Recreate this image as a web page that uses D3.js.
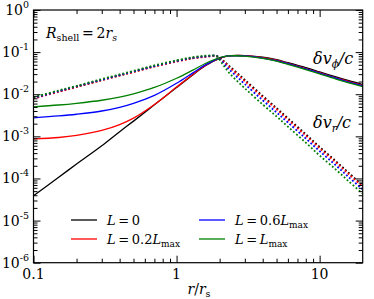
<!DOCTYPE html>
<html>
<head>
<meta charset="utf-8">
<script src="https://cdn.jsdelivr.net/npm/d3@7"></script>
<style>
  body { margin: 0; background: #fff; }
  text { font-family: "DejaVu Serif", serif; fill: #000; }
</style>
</head>
<body>
<svg id="chart" width="374" height="299"></svg>
<script>
// radius grid (r / r_s) for the azimuthal velocity curves
const rPhi = [0.1, 0.15, 0.2, 0.3, 0.4, 0.5, 0.7, 1.0, 1.3, 1.6, 2.0, 2.3, 2.6, 3.0, 4.0, 5.0, 6.0, 8.0, 10, 13, 16, 20];
const vPhiL0   = [3.9e-5, 1.07e-4, 2.2e-4, 6.0e-4, 1.29e-3, 2.3e-3, 5.6e-3, 0.0145, 0.0288, 0.048, 0.071, 0.081, 0.084, 0.083, 0.076, 0.066, 0.056, 0.0427, 0.0339, 0.0257, 0.0209, 0.017];
const vPhiL02  = [8.7e-4, 9.4e-4, 1.05e-3, 1.38e-3, 1.9e-3, 2.7e-3, 5.7e-3, 0.0148, 0.0295, 0.049, 0.0716, 0.081, 0.083, 0.082, 0.074, 0.0646, 0.0543, 0.0407, 0.0324, 0.0245, 0.020, 0.0162];
const vPhiL06  = [2.75e-3, 3.05e-3, 3.35e-3, 4.0e-3, 4.9e-3, 6.1e-3, 9.4e-3, 0.0182, 0.0322, 0.0505, 0.0724, 0.081, 0.082, 0.081, 0.0724, 0.0624, 0.0531, 0.0398, 0.0316, 0.024, 0.0193, 0.0158];
const vPhiL1   = [5.0e-3, 5.55e-3, 6.1e-3, 7.2e-3, 8.5e-3, 0.0102, 0.0145, 0.024, 0.0375, 0.0545, 0.0741, 0.081, 0.082, 0.080, 0.0708, 0.061, 0.0513, 0.0385, 0.0305, 0.0229, 0.0186, 0.0151];

// radius grid for the radial velocity curves
const rR = [0.1, 0.15, 0.2, 0.3, 0.4, 0.5, 0.7, 1.0, 1.3, 1.6, 1.9, 2.1, 2.3, 2.6, 3.0, 4.0, 5.0, 6.0, 8.0, 10, 13, 16, 20];
const vRL0  = [8.1e-3, 0.0117, 0.0151, 0.0219, 0.0282, 0.0343, 0.0462, 0.061, 0.0724, 0.0785, 0.0813, 0.0646, 0.049, 0.0339, 0.0219, 9.1e-3, 4.7e-3, 2.7e-3, 1.12e-3, 5.6e-4, 2.57e-4, 1.35e-4, 6.9e-5];
const vRL02 = [7.9e-3, 0.0114, 0.0148, 0.0214, 0.0276, 0.0335, 0.0452, 0.0596, 0.0708, 0.0767, 0.0795, 0.062, 0.0463, 0.0318, 0.0205, 8.5e-3, 4.4e-3, 2.5e-3, 1.05e-3, 5.2e-4, 2.4e-4, 1.26e-4, 6.4e-5];
const vRL06 = [8.2e-3, 0.0118, 0.0153, 0.0221, 0.0285, 0.0347, 0.0467, 0.0617, 0.0732, 0.0794, 0.080, 0.0576, 0.0408, 0.0273, 0.0174, 7.2e-3, 3.7e-3, 2.14e-3, 8.9e-4, 4.45e-4, 2.04e-4, 1.07e-4, 5.5e-5];
const vRL1  = [8.5e-3, 0.0123, 0.0158, 0.0229, 0.0295, 0.0359, 0.0484, 0.0639, 0.0758, 0.0822, 0.080, 0.0513, 0.034, 0.0219, 0.0138, 5.7e-3, 2.97e-3, 1.7e-3, 7.1e-4, 3.5e-4, 1.62e-4, 8.5e-5, 4.35e-5];

const seriesColors = ["#000000", "#ff0000", "#0000ff", "#008000"];

const xMajor = [0.1, 1, 10];
const xMinor = [0.2, 0.3, 0.4, 0.5, 0.6, 0.7, 0.8, 0.9, 2, 3, 4, 5, 6, 7, 8, 9];
const yExponents = [0, -1, -2, -3, -4, -5, -6];

const svg = d3.select("#chart");
const mLeft = 33.5, mRight = 362.7, mTop = 10, mBottom = 262.7;

const x = d3.scaleLog().domain([0.1, 20]).range([mLeft, mRight]);
const y = d3.scaleLog().domain([1e-6, 1]).range([mBottom, mTop]);

const yMajor = yExponents.map(e => Math.pow(10, e));
const yMinor = [];
yExponents.slice(1).forEach(e => {
  for (let k = 2; k <= 9; k++) yMinor.push(k * Math.pow(10, e));
});

svg.append("clipPath").attr("id", "clip")
  .append("rect")
  .attr("x", mLeft).attr("y", mTop)
  .attr("width", mRight - mLeft).attr("height", mBottom - mTop);

const plot = svg.append("g").attr("clip-path", "url(#clip)");

const line = d3.line()
  .x(d => x(d[0]))
  .y(d => y(d[1]))
  .curve(d3.curveCatmullRom.alpha(0.5));

const phiSets = [vPhiL0, vPhiL02, vPhiL06, vPhiL1];
const radSets = [vRL0, vRL02, vRL06, vRL1];

// solid lines: delta v_phi / c
phiSets.forEach((vals, i) => {
  plot.append("path")
    .datum(rPhi.map((r, j) => [r, vals[j]]))
    .attr("fill", "none")
    .attr("stroke", seriesColors[i])
    .attr("stroke-width", 1.3)
    .attr("d", line);
});

// dotted lines: delta v_r / c
radSets.forEach((vals, i) => {
  plot.append("path")
    .datum(rR.map((r, j) => [r, vals[j]]))
    .attr("fill", "none")
    .attr("stroke", seriesColors[i])
    .attr("stroke-width", 1.8)
    .attr("stroke-dasharray", "1.8,2.2")
    .attr("d", line);
});

// ticks on all four sides, pointing inward
function addTicks(axisFn, scale, values, size, transform) {
  svg.append("g")
    .attr("transform", transform)
    .call(axisFn(scale).tickValues(values).tickSize(size).tickFormat(""))
    .call(g => g.select(".domain").remove())
    .call(g => g.selectAll("line").attr("stroke", "#000").attr("stroke-width", 1));
}
addTicks(d3.axisBottom, x, xMajor, -7, `translate(0,${mBottom})`);
addTicks(d3.axisBottom, x, xMinor, -4, `translate(0,${mBottom})`);
addTicks(d3.axisTop, x, xMajor, -7, `translate(0,${mTop})`);
addTicks(d3.axisTop, x, xMinor, -4, `translate(0,${mTop})`);
addTicks(d3.axisLeft, y, yMajor, -7, `translate(${mLeft},0)`);
addTicks(d3.axisLeft, y, yMinor, -4, `translate(${mLeft},0)`);
addTicks(d3.axisRight, y, yMajor, -7, `translate(${mRight},0)`);
addTicks(d3.axisRight, y, yMinor, -4, `translate(${mRight},0)`);

// frame
svg.append("rect")
  .attr("x", mLeft).attr("y", mTop)
  .attr("width", mRight - mLeft).attr("height", mBottom - mTop)
  .attr("fill", "none").attr("stroke", "#000").attr("stroke-width", 1.2);

// x tick labels
svg.selectAll(".xlab").data(xMajor).enter().append("text")
  .attr("x", d => x(d)).attr("y", 278.5)
  .attr("text-anchor", "middle")
  .attr("font-size", 14)
  .text(d => d);

// y tick labels 10^n
yExponents.forEach(e => {
  const t = svg.append("text")
    .attr("x", 29).attr("y", y(Math.pow(10, e)) + 5)
    .attr("text-anchor", "end")
    .attr("font-size", 14);
  t.append("tspan").text("10");
  t.append("tspan").attr("dy", -7).attr("font-size", 9.5).text(e === 0 ? "0" : "-" + (-e));
});

// x axis label r / r_s
const xl = svg.append("text").attr("x", 199).attr("y", 294).attr("text-anchor", "middle").attr("font-size", 14);
xl.append("tspan").attr("font-style", "italic").text("r");
xl.append("tspan").text("/");
xl.append("tspan").attr("font-style", "italic").text("r");
xl.append("tspan").attr("dy", 3).attr("font-size", 9.5).text("s");

// R_shell = 2 r_s
const rs = svg.append("text").attr("x", 46).attr("y", 37.5).attr("font-size", 14);
rs.append("tspan").attr("font-style", "italic").text("R");
rs.append("tspan").attr("dy", 3).attr("font-size", 9.5).text("shell");
rs.append("tspan").attr("dy", -3).text("\u2009=\u20092");
rs.append("tspan").attr("font-style", "italic").text("r");
rs.append("tspan").attr("dy", 3).attr("font-size", 9.5).attr("font-style", "italic").text("s");

// curve annotations
function velLabel(xp, yp, sub) {
  const t = svg.append("text").attr("x", xp).attr("y", yp).attr("font-size", 16).attr("font-style", "italic");
  t.append("tspan").text("δv");
  t.append("tspan").attr("dy", 4).attr("font-size", 10.5).text(sub);
  t.append("tspan").attr("dy", -4).text("/c");
}
velLabel(313, 63.5, "ϕ");
velLabel(313, 128, "r");

// legend
const legendItems = [
  { col: 0, row: 0, main: "0", max: false },
  { col: 0, row: 1, main: "0.2", max: true },
  { col: 1, row: 0, main: "0.6", max: true },
  { col: 1, row: 1, main: "", max: true }
];
legendItems.forEach((d, i) => {
  const lx = d.col === 0 ? 71 : 199;
  const ly = d.row === 0 ? 220 : 239;
  svg.append("line")
    .attr("x1", lx).attr("x2", lx + 26)
    .attr("y1", ly).attr("y2", ly)
    .attr("stroke", seriesColors[i]).attr("stroke-width", 1.3);
  const t = svg.append("text").attr("x", lx + 36).attr("y", ly + 4.5).attr("font-size", 13);
  t.append("tspan").attr("font-style", "italic").text("L");
  t.append("tspan").text("\u2009=\u2009" + d.main);
  if (d.max) {
    t.append("tspan").attr("font-style", "italic").text("L");
    t.append("tspan").attr("dy", 3).attr("font-size", 9).text("max");
  }
});
</script>
</body>
</html>
